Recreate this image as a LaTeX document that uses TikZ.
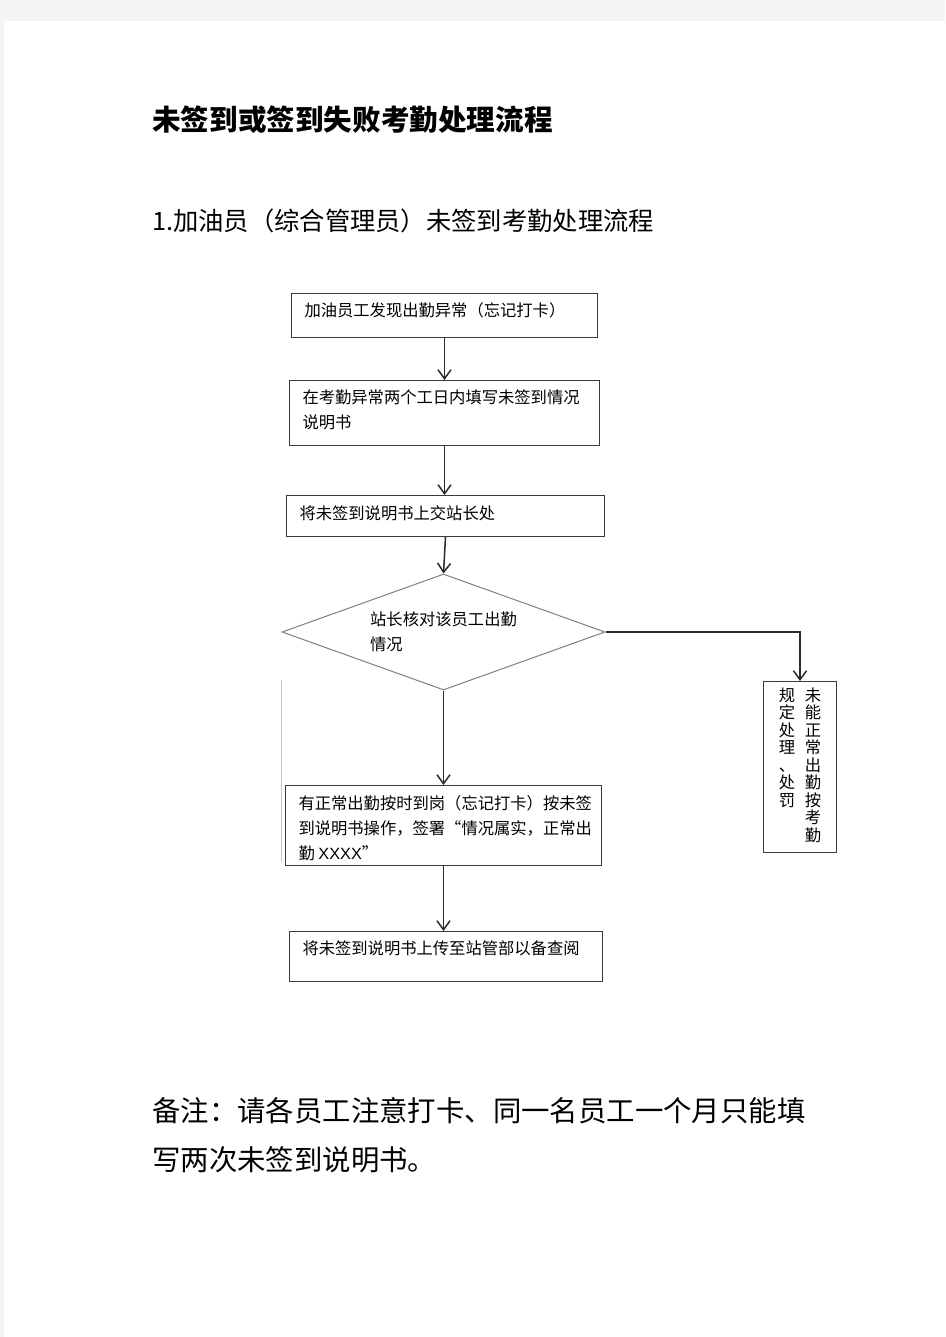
\documentclass[tikz,border=0pt]{standalone}
\usepackage{fontspec}
\usepackage{tikz}
\usetikzlibrary{shapes.geometric,arrows.meta,positioning}
\setmainfont{Noto Sans CJK SC}
\newfontfamily\latfont{Liberation Sans}
\definecolor{PageGray}{HTML}{F4F4F4}
\definecolor{BoxLine}{HTML}{3A3A3A}
\definecolor{DiamondLine}{HTML}{808080}
\definecolor{ArrowLine}{HTML}{2A2A2A}
\definecolor{StrayLine}{HTML}{C8C8C8}
\newcommand{\boxfont}{\fontsize{16.3}{25}\selectfont}

\begin{document}
\begin{tikzpicture}[
  x=1pt, y=-1pt,
  flowbox/.style={rectangle, draw=BoxLine, line width=1pt, anchor=north west, inner xsep=13pt, inner ysep=0pt, font=\boxfont},
  decision/.style={diamond, draw=DiamondLine, line width=1pt, aspect=2.78, minimum width=323pt, minimum height=116pt, inner sep=0pt, align=left, font=\boxfont},
  flowarrow/.style={-{Straight Barb[length=9pt,width=13pt]}, line width=1.5pt, ArrowLine},
  heading/.style={anchor=west, inner sep=0pt}
]

% Page
\fill[PageGray] (0,0) rectangle (945,1337);
\fill[white] (4,21) rectangle (945,1337);
\useasboundingbox (0,0) rectangle (945,1337);

% Titles
\node[heading, font=\fontsize{28.6}{34}\selectfont\bfseries] (title) at (152,120) {未签到或签到失败考勤处理流程};
\node[heading, font=\fontsize{25.3}{30}\selectfont] (sub) at (152,221) {1.加油员（综合管理员）未签到考勤处理流程};

% Process boxes
\node[flowbox] (b1) at (291,293) {\parbox[c][44pt][t]{280pt}{\vspace*{9pt}加油员工发现出勤异常（忘记打卡）}};
\node[flowbox] (b2) at (289,380) {\parbox[c][65pt][t]{284pt}{\vspace*{9pt}在考勤异常两个工日内填写未签到情况\\说明书}};
\node[flowbox] (b3) at (286,495) {\parbox[c][41pt][t]{292pt}{\vspace*{10pt}将未签到说明书上交站长处}};
\node[decision] (dec) at (443.5,632) {站长核对该员工出勤\\情况};
\node[flowbox] (b4) at (285,785) {\parbox[c][80pt][t]{290pt}{\vspace*{10pt}有正常出勤按时到岗（忘记打卡）按未签\\到说明书操作，签署“情况属实，正常出\\勤 {\latfont XXXX}”}};
\node[flowbox] (b5) at (289,931) {\parbox[c][50pt][t]{287pt}{\vspace*{9pt}将未签到说明书上传至站管部以备查阅}};

% Right branch, text set in columns
\node[flowbox, inner xsep=0pt] (rb) at (763,681) {\parbox[c][171pt][t]{73pt}{\vspace*{6pt}\centering
  \parbox[t]{17pt}{\centering\fontsize{16.3}{17.5}\selectfont 规\\定\\处\\理\\、\\处\\罚}\hspace{9pt}%
  \parbox[t]{17pt}{\centering\fontsize{16.3}{17.5}\selectfont 未\\能\\正\\常\\出\\勤\\按\\考\\勤}}};

% Connectors
\draw[flowarrow] (b1.south) -- (b1.south |- b2.north);
\draw[flowarrow] (b2.south) -- (b2.south |- b3.north);
\draw[flowarrow] (b3.south) -- (dec.north);
\draw[flowarrow] (dec.south) -- (dec.south |- b4.north);
\draw[flowarrow] (b4.south) -- (b4.south |- b5.north);
\draw[flowarrow] (dec.east) -| (rb.north);

% stray stroke at the left
\draw[StrayLine, line width=0.8pt] (281,680) -- (281,862);

% Note
\node[anchor=north west, inner sep=0pt, align=left, font=\fontsize{28.4}{49}\selectfont] (note) at (152,1097) {备注：请各员工注意打卡、同一名员工一个月只能填\\写两次未签到说明书。};

\end{tikzpicture}
\end{document}
